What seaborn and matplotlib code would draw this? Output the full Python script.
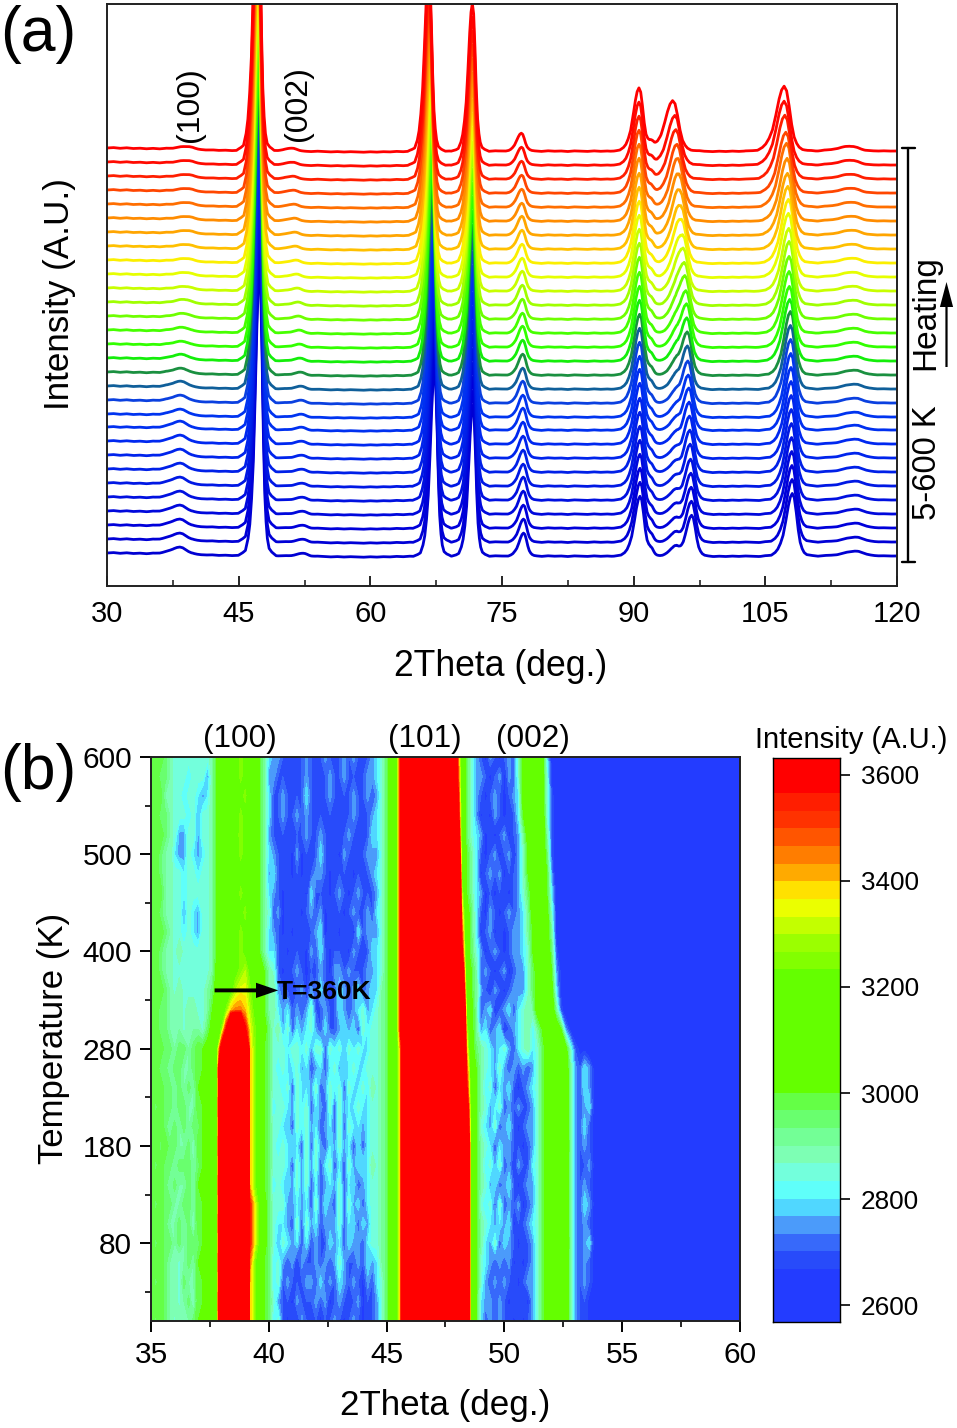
import numpy as np
import pandas as pd
import matplotlib
matplotlib.use('Agg')
import matplotlib.pyplot as plt
from matplotlib.colors import ListedColormap
from matplotlib.lines import Line2D
from matplotlib.ticker import AutoMinorLocator, FixedLocator, MultipleLocator
import seaborn as sns

W, H = 957, 1428

sns.set_theme(style='ticks')
plt.rcParams['font.family'] = ['Liberation Sans', 'DejaVu Sans']
plt.rcParams['axes.edgecolor'] = 'black'
plt.rcParams['text.color'] = 'black'

# ── panel (a) data ───────────────────────────────────────────────────────────
temps = [5, 20, 40, 60, 80, 100, 120, 140, 160, 180, 200, 220, 240, 260, 280,
         300, 320, 360, 380, 400, 420, 440, 460, 480, 500, 520, 540, 560, 580, 600]

curve_offset = [33, 47, 61, 75, 89, 103, 117, 131, 145, 159, 172, 186, 200, 214, 228,
                242, 256, 270, 284, 298, 312, 326, 340, 354, 368, 382, 396, 410, 424, 438]

curve_colors = ['#0000d2', '#0000d6', '#0000da', '#0008dc', '#0010e0', '#0018e4', '#0020e8',
                '#0024ec', '#0028f0', '#0030f0', '#0034f0', '#0a40e0', '#0f5f9a', '#1a9040',
                '#14ee0a', '#32ff00', '#46ff00', '#6eff00', '#a0ff00', '#c8ff00', '#e6ff00',
                '#fbef00', '#ffc000', '#ffa500', '#ff8c00', '#ff6e00', '#ff4600', '#ff1e00',
                '#ff0a00', '#ff0000']

# background level of a curve across 30-120 deg
background = [0.0, 0.4, -0.3, 0.2, -0.5, -0.2, -0.8, -0.4, -1.0, -0.6, -1.2, -1.0, -1.6, -1.3, -1.8,
              -2.1, -1.9, -2.4, -2.2, -2.6, -2.3, -2.5, -2.4,
              -2.2, -2.6, -2.4, -2.9, -2.7, -3.2, -3.0, -3.3, -3.6, -3.2, -3.5, -3.9, -3.6, -4.0, -3.7, -3.9, -4.2,
              -3.8, -4.1, -3.7, -3.9, -3.4, -3.7, -3.2, -3.4,
              -3.1, -3.5, -2.9, -3.3, -3.0, -3.4, -2.8, -3.2, -3.5, -3.0, -3.3, -2.8, -3.1, -3.5, -2.9, -3.2,
              -2.7, -3.1, -3.4, -2.8, -3.2, -3.0, -3.5, -2.9, -3.2, -3.4, -2.9, -3.3, -3.0, -3.4, -3.1, -3.3,
              -3.0, -3.4, -2.9, -3.2, -3.5, -3.0, -3.3, -3.6, -3.1, -3.4, -3.0, -3.3, -3.6, -3.2, -3.5, -3.1,
              -3.4, -3.0, -3.3, -3.5, -3.1, -3.4, -3.0, -3.2, -3.5, -3.0, -3.3, -3.1, -3.4, -2.9, -3.2, -3.5,
              -3.1, -3.3, -3.0, -3.4, -3.1, -3.2, -2.9, -3.1, -3.0]

# one reflection: offset from its centre (deg) and height relative to its top
shape_dx = [-2.4, -1.9, -1.6, -1.3, -1.1, -0.9, -0.7, -0.5, -0.3, -0.15, 0.0,
            0.15, 0.3, 0.45, 0.6, 0.75, 0.9, 1.1, 1.4, 1.9]
shape_rel = [0.0, 0.01, 0.018, 0.06, 0.11, 0.20, 0.33, 0.55, 0.80, 0.94, 1.0,
             0.93, 0.70, 0.42, 0.22, 0.12, 0.06, 0.025, 0.012, 0.0]

# per-curve centre and height of every reflection, bottom curve first
pos_100 = [38.30, 38.30, 38.30, 38.30, 38.32, 38.32, 38.34, 38.34, 38.36, 38.36, 38.38, 38.40, 38.42, 38.46, 38.50,
           38.55, 38.60, 38.70, 38.80, 38.90, 38.95, 39.00, 39.00, 39.05, 39.05, 39.05, 39.05, 39.05, 39.05, 39.05]
h_100 = [7, 7, 7, 7, 7, 7, 7, 7, 7, 7, 6, 6, 6, 5, 5, 4, 4, 4, 4, 3, 3, 3, 3, 3, 3, 3, 3, 3, 3, 3]
pos_002 = [52.35, 52.32, 52.30, 52.28, 52.26, 52.24, 52.22, 52.20, 52.18, 52.16, 52.14, 52.12, 52.10, 52.05, 52.00,
           51.95, 51.90, 51.80, 51.75, 51.65, 51.55, 51.50, 51.40, 51.35, 51.30, 51.25, 51.20, 51.15, 51.10, 51.05]
h_002 = [3, 3, 3, 3, 3, 3, 3, 3, 3, 3, 3, 3, 3, 3, 3, 3, 3, 3, 3, 3, 3, 3, 3, 3, 3, 3, 3, 3, 3, 3]
pos_47 = [47.37, 47.37, 47.36, 47.36, 47.35, 47.35, 47.34, 47.34, 47.33, 47.33, 47.32, 47.31, 47.30, 47.29, 47.29,
          47.28, 47.27, 47.26, 47.25, 47.24, 47.23, 47.22, 47.21, 47.20, 47.19, 47.18, 47.17, 47.16, 47.15, 47.15]
h_47 = [283, 283, 283, 284, 284, 284, 284, 284, 284, 284, 284, 284, 284, 284, 284,
        284, 284, 284, 284, 284, 284, 284, 284, 284, 284, 284, 284, 284, 284, 284]
pos_67 = [67.30, 67.28, 67.26, 67.24, 67.22, 67.20, 67.18, 67.16, 67.14, 67.12, 67.10, 67.08, 67.06, 67.04, 67.02,
          67.00, 66.98, 66.95, 66.92, 66.90, 66.87, 66.84, 66.81, 66.78, 66.75, 66.72, 66.70, 66.68, 66.66, 66.65]
h_67 = [185, 185, 185, 185, 185, 185, 185, 185, 185, 185, 185, 185, 185, 185, 185,
        185, 185, 185, 185, 185, 185, 185, 185, 185, 185, 185, 185, 185, 185, 185]
pos_71 = [71.67, 71.67, 71.67, 71.67, 71.67, 71.67, 71.66, 71.66, 71.66, 71.66, 71.65, 71.65, 71.65, 71.65, 71.65,
          71.65, 71.64, 71.64, 71.63, 71.63, 71.63, 71.63, 71.63, 71.63, 71.63, 71.63, 71.62, 71.62, 71.62, 71.62]
h_71 = [151, 151, 151, 151, 151, 151, 151, 151, 151, 151, 151, 151, 151, 150, 150,
        150, 150, 150, 150, 149, 149, 149, 149, 149, 148, 148, 148, 148, 148, 148]
pos_77 = [77.45, 77.44, 77.43, 77.42, 77.42, 77.41, 77.40, 77.40, 77.39, 77.38, 77.38, 77.37, 77.36, 77.36, 77.35,
          77.34, 77.33, 77.32, 77.32, 77.31, 77.30, 77.29, 77.28, 77.27, 77.26, 77.25, 77.24, 77.23, 77.22, 77.20]
h_77 = [23, 23, 23, 23, 23, 22, 22, 22, 22, 22, 22, 22, 21, 21, 21, 21, 20, 20, 20, 20, 19, 19, 19, 19, 18, 18, 18, 18, 18, 18]
pos_90 = [90.72, 90.72, 90.72, 90.71, 90.71, 90.71, 90.70, 90.70, 90.70, 90.69, 90.69, 90.68, 90.68, 90.68, 90.67,
          90.67, 90.66, 90.66, 90.65, 90.65, 90.64, 90.64, 90.63, 90.63, 90.62, 90.62, 90.61, 90.61, 90.60, 90.60]
h_90 = [60, 60, 60, 60, 60, 60, 60, 60, 61, 61, 61, 61, 61, 61, 61, 61, 61, 62, 62, 62, 62, 62, 62, 62, 63, 63, 63, 63, 63, 63]
pos_96 = [96.60, 96.58, 96.55, 96.52, 96.48, 96.44, 96.40, 96.36, 96.32, 96.28, 96.22, 96.17, 96.12, 96.10, 96.05,
          96.02, 95.94, 95.83, 95.76, 95.64, 95.57, 95.45, 95.38, 95.26, 95.18, 95.07, 94.96, 94.81, 94.69, 94.43]
h_96 = [41, 41, 41, 41, 41, 42, 42, 42, 42, 42, 42, 42, 43, 43, 43, 43, 42, 43, 42, 42, 41, 42, 41, 42, 43, 44, 44, 45, 46, 48]
w_96 = [1.35, 1.35, 1.35, 1.35, 1.35, 1.35, 1.35, 1.35, 1.4, 1.4, 1.4, 1.4, 1.4, 1.45, 1.45,
        1.5, 1.5, 1.5, 1.55, 1.55, 1.6, 1.6, 1.65, 1.65, 1.7, 1.7, 1.75, 1.8, 1.85, 1.9]
pos_108 = [108.07, 108.05, 108.03, 108.01, 107.99, 107.98, 107.96, 107.95, 107.93, 107.92, 107.90, 107.88, 107.86, 107.86, 107.78,
           107.74, 107.71, 107.71, 107.71, 107.67, 107.63, 107.63, 107.56, 107.52, 107.48, 107.41, 107.33, 107.22, 107.14, 107.14]
h_108 = [63, 63, 63, 63, 63, 63, 63, 63, 63, 63, 64, 64, 64, 64, 62, 61, 62, 63, 64, 63, 64, 64, 63, 62, 63, 64, 61, 64, 64, 65]
w_108 = [1.5, 1.5, 1.5, 1.5, 1.5, 1.5, 1.5, 1.5, 1.5, 1.5, 1.5, 1.55, 1.55, 1.55, 1.6,
         1.6, 1.6, 1.65, 1.65, 1.65, 1.7, 1.7, 1.7, 1.75, 1.75, 1.8, 1.8, 1.85, 1.9, 1.9]
pos_115 = [115.20, 115.20, 115.20, 115.20, 115.18, 115.18, 115.16, 115.16, 115.14, 115.14, 115.12, 115.10, 115.08, 115.06, 115.04,
           115.02, 115.00, 114.98, 114.95, 114.92, 114.90, 114.87, 114.84, 114.81, 114.78, 114.75, 114.72, 114.68, 114.64, 114.60]
h_115 = [5, 5, 5, 5, 5, 5, 5, 5, 5, 5, 5, 5, 5, 5, 5, 5, 5, 5, 5, 5, 5, 5, 5, 5, 5, 5, 5, 5, 5, 5]
# shoulder and small bump of the split group next to the 90 deg reflection
h_shoulder = [6, 6, 6, 6, 6, 6, 6, 6, 6, 6, 6, 6, 6, 6, 6, 6, 6, 6, 6, 6, 6, 6, 6, 6, 6, 6, 6, 6, 6, 6]
h_bump = [9, 9, 9, 9, 9, 9, 9, 9, 9, 9, 9, 9, 10, 10, 10, 10, 10, 10, 10, 10, 10, 9, 9, 8, 8, 7, 6, 5, 4, 3]

peak_table = [(pos_100, h_100, [2.2] * 30), (pos_002, h_002, [1.5] * 30),
              (pos_47, h_47, [1.0] * 30), (pos_67, h_67, [1.0] * 30),
              (pos_71, h_71, [1.0] * 30), (pos_77, h_77, [1.1] * 30),
              (pos_90, h_90, [1.35] * 30), (pos_96, h_96, w_96),
              (pos_108, h_108, w_108), (pos_115, h_115, [3.0] * 30),
              ([92.0] * 30, h_shoulder, [0.8] * 30), ([94.7] * 30, h_bump, [1.3] * 30)]

# ── panel (b) data ───────────────────────────────────────────────────────────
# one digit per 0.2 deg from 35 to 55 deg, 2600 + 50 * digit (base 36), top row = 600 K
# the gaps only split the rows up into 35-37.8 / 38-40 / 40.2-45 / 45.2-48.8 / 49-51 / 51.2-53 / 53.2-55
map_rows = [
    '888765555555568 9aabdcba864 33222 22322 23222 32322 23457 9akzzzzzzzzzzzja753 21321232 59a ba94100000 0000000000',
    '887765554555368 9aabdcba863 32222 22322 22322 32222 33457 9akzzzzzzzzzzzka753 32123132 59a ba95100000 0000000000',
    '888665545543468 9aabcdba864 22322 22422 22322 22322 32357 9akzzzzzzzzzzzma753 21232123 49a ba95200000 0000000000',
    '887765554535568 9aabdcba864 22322 32322 22222 22322 23457 9akzzzzzzzzzzzoa753 12132122 48a baa5200000 0000000000',
    '888765335535568 9aacdcba863 22222 22322 32222 23222 24457 9akzzzzzzzzzzzra754 31212312 369 aba6200000 0000000000',
    '887664335434568 9aabdcba864 32221 31222 42221 32222 33357 9akzzzzzzzzzzzvb864 21231231 358 aba7200000 0000000000',
    '887665545545568 9aabccba863 42221 21223 32122 22122 23457 9akzzzzzzzzzzzzc864 12323122 358 aba8300000 0000000000',
    '888665545555568 9aabdcba864 32122 22142 22123 21232 22357 9akzzzzzzzzzzzze864 31212212 357 9ba8410000 0000000000',
    '887665535435568 9aabcdba865 23122 21232 31222 12322 32457 9akzzzzzzzzzzzzg974 21321232 346 9ab9510000 0000000000',
    '888765545435568 9abbdcba864 32121 22223 41221 22142 33357 9akzzzzzzzzzzzzi974 12312123 346 8ab9610000 0000000000',
    '887665655555568 9aabdcba864 42212 22132 42122 21322 24457 9akzzzzzzzzzzzzk975 31232123 345 8aba720000 0000000000',
    '887665555555569 9abcdecba86 52122 32122 32133 23222 33457 9akzzzzzzzzzzzzoa86 23212312 335 79ba831000 0000000000',
    '888765655555679 abceffdba86 63222 23132 42224 32342 34467 9akzzzzzzzzzzzzrb86 32132123 335 79ab941000 0000000000',
    '887766656655689 bdghhgeca86 64342 32352 23224 32345 34567 9akzzzzzzzzzzzzzc96 23412342 456 69aba62000 0000000000',
    '88776665666579b dkzzzkfdb97 56352 43453 24223 43425 45567 9akzzzzzzzzzzzzze96 34234123 456 468aba8310 1000000000',
    '8887767767889ac mzzzzzgdb87 55545 54535 52545 35454 45567 9ahzzzzzzzzzzzzzg97 65434532 456 4579aba952 1100000000',
    '8877677667889ac zzzzzzgdb87 54544 53423 42453 44544 55567 9ahzzzzzzzzzzzzzia8 65435323 232 3579abba63 2431100000',
    '8887767676899ab zzzzzzgdb87 55452 54435 23545 25445 46567 9ahzzzzzzzzzzzzzka8 64524342 123 4579abba63 2431100000',
    '8787767766889ac zzzzzzgdb87 45543 54524 32525 34454 45567 9ahzzzzzzzzzzzzzoa8 65345232 322 3579abba63 2341100000',
    '8887676767789ab zzzzzzgdb87 55442 54534 23425 25443 45567 9ahzzzzzzzzzzzzzra8 54352342 123 3579abba63 2421100000',
    '8878776675889ac zzzzzzgdb87 54544 42525 32435 34242 45567 9ahzzzzzzzzzzzzzva8 65424332 212 3579abbb63 2321100000',
    '8787767776789ab zzzzzzgdb87 55542 53535 24524 25344 46567 9ahzzzzzzzzzzzzzva8 64535231 322 4579abba63 2231100000',
    '8887676676899ac zzzzzzgdb87 45443 53524 23435 24423 45567 9ahzzzzzzzzzzzzzva8 65342342 123 3579abba63 2321100000',
    '8787766776889ab zzzzzzjfc97 55533 43425 24325 25342 45567 9ahzzzzzzzzzzzzzva8 54525232 312 3579abba63 2431100000',
    '8887667675889ac zzzzzzjfc97 54432 52534 23335 24424 35567 9ahzzzzzzzzzzzzzva8 65434341 223 4579abba63 2321100000',
    '8787767677789ab zzzzzzjfc97 53543 42423 22434 24332 45567 9ahzzzzzzzzzzzzzva8 64352432 122 3579abbb63 2341100000',
    '8887665676899ac zzzzzzhdb87 45323 13223 23235 32232 43467 9ahzzzzzzzzzzzzzva8 54323231 212 3579abba63 2321100000',
    '8787665766889ab zzzzzzgdb87 45232 22332 42324 32321 32457 9ahzzzzzzzzzzzzzva8 53232322 123 3579abba63 2321100000',
    '8887665675889ac zzzzzzgdb87 53221 32223 23123 22231 22357 9ahzzzzzzzzzzzzzva8 43323212 221 3579abba63 2211100000',
    '8787656667899ab zzzzzzgdb87 45212 13222 12232 12321 22357 9ahzzzzzzzzzzzzzva8 42323221 212 3579abba63 2211100000',
]

# band colours of the scale bar, bottom band first, 33.25 wide from 2568
band_colors = ['#233cff', '#233cff', '#233cff', '#284bfa', '#3769fa', '#4b9bfa', '#50d7ff', '#5ffffa',
               '#73ffdc', '#7dffb4', '#73ff96', '#69ff6e', '#64ff46', '#64ff00', '#64ff00', '#64ff00',
               '#64ff00', '#64ff00', '#64ff00', '#64ff00', '#82ff00', '#9bff00', '#c3ff00', '#ebff00',
               '#ffe100', '#ffaa00', '#ff7d00', '#ff5500', '#ff3200', '#ff1e00', '#ff0000', '#ff0000']
band_start = 2568
band_step = 33.25
cbar_ticks = [2600, 2800, 3000, 3200, 3400, 3600]
temp_ticks = [80, 180, 280, 400, 500, 600]


def rect(left, top, right, bottom):
    return [left / W, 1 - bottom / H, (right - left) / W, (bottom - top) / H]


fig = plt.figure(figsize=(W / 100, H / 100), dpi=100)


def label(x, y, s, size, **kw):
    kw.setdefault('ha', 'center')
    fig.text(x / W, 1 - y / H, s, fontsize=size, va='center', **kw)


# ── (a) stacked patterns ─────────────────────────────────────────────────────
ax_a = fig.add_axes(rect(107, 4, 897, 586))

bg_x = 30 + 90 * np.arange(len(background)) / (len(background) - 1)
frames = []
for i in range(len(temps)):
    knots = [bg_x]
    for pos, hgt, wid in peak_table:
        knots.append(pos[i] + np.array(shape_dx) * wid[i])
    x = np.unique(np.concatenate(knots))
    x = x[(x >= 30) & (x <= 120)]
    y = curve_offset[i] + np.interp(x, bg_x, background)
    for pos, hgt, wid in peak_table:
        y = y + hgt[i] * np.interp(x, pos[i] + np.array(shape_dx) * wid[i], shape_rel, left=0, right=0)
    frames.append(pd.DataFrame({'two_theta': x, 'intensity': y, 'curve': i}))
patterns = pd.concat(frames, ignore_index=True)

sns.lineplot(data=patterns, x='two_theta', y='intensity', hue='curve',
             palette=dict(enumerate(curve_colors)), estimator=None, errorbar=None,
             legend=False, linewidth=2.0, ax=ax_a)
ax_a.set_xlim(30, 120)
ax_a.set_ylim(0, 582)
ax_a.set_xlabel('')
ax_a.set_ylabel('')
ax_a.set_yticks([])
ax_a.xaxis.set_major_locator(MultipleLocator(15))
ax_a.xaxis.set_minor_locator(AutoMinorLocator(2))
ax_a.tick_params(axis='x', which='major', direction='in', length=7.5, width=1.2, labelsize=21, pad=10, colors='black')
ax_a.tick_params(axis='x', which='minor', direction='in', length=4.5, width=1.2)
for s in ax_a.spines.values():
    s.set_linewidth(1.4)
    s.set_color('#202020')

label(38, 35, '(a)', 45)
label(60, 294, 'Intensity (A.U.)', 25.2, rotation=90)
label(501, 667, '2Theta (deg.)', 25.6)
label(190, 105, '(100)', 23, rotation=90)
label(298, 104, '(002)', 23, rotation=90)
label(926, 313, 'Heating', 24, rotation=90)
label(927, 463, '5-600 K', 23.6, rotation=90)

# bracket for the temperature range and the heating arrow
for xs, ys in [([908, 908], [148, 562]), ([902, 915], [148, 148]), ([902, 915], [562, 562])]:
    fig.add_artist(Line2D(np.array(xs) / W, 1 - np.array(ys) / H, color='black', lw=1.7,
                          transform=fig.transFigure))
ax_a.annotate('', xy=(946.5, H - 282), xytext=(946.5, H - 367),
              xycoords='figure pixels', textcoords='figure pixels',
              arrowprops=dict(facecolor='black', edgecolor='black', width=1.6, headwidth=9.5,
                              headlength=18, shrink=0, lw=0))

# ── (b) map ──────────────────────────────────────────────────────────────────
ax_b = fig.add_axes(rect(151, 757, 740, 1321))

rows = [r.replace(' ', '') + '0' for r in map_rows[::-1]]
intensity = np.array([[2600 + 50 * int(c, 36) for c in r] for r in rows], dtype=float)
map_x = np.append(35 + 0.2 * np.arange(intensity.shape[1] - 1), 60.0)
map_y = np.arange(len(temps))

edges = band_start + band_step * np.arange(len(band_colors) + 1)
cmap = ListedColormap(band_colors)
levels = edges.copy()
levels[0] = 2000
levels[-1] = 5000
ax_b.contourf(map_x, map_y, intensity, levels=levels, colors=band_colors)
ax_b.set_xlim(35, 60)
ax_b.set_ylim(0, len(temps) - 1)
ax_b.xaxis.set_major_locator(MultipleLocator(5))
ax_b.xaxis.set_minor_locator(AutoMinorLocator(2))
tick_rows = [temps.index(t) for t in temp_ticks]
ax_b.yaxis.set_major_locator(FixedLocator(tick_rows))
ax_b.yaxis.set_minor_locator(FixedLocator([t - 2.5 for t in tick_rows]))
ax_b.set_yticklabels([str(t) for t in temp_ticks])
ax_b.tick_params(axis='x', which='major', direction='out', length=8, width=1.4, labelsize=21.5, pad=6.5, colors='black')
ax_b.tick_params(axis='y', which='major', direction='out', length=8, width=1.4, labelsize=21.5, pad=5.5, colors='black')
ax_b.tick_params(axis='both', which='minor', direction='out', length=4.5, width=1.4)
for s in ax_b.spines.values():
    s.set_linewidth(1.4)
    s.set_color('#202020')

ax_b.annotate('', xy=(40.4, 17), xytext=(37.7, 17),
              arrowprops=dict(facecolor='black', edgecolor='black', width=2.8, headwidth=11,
                              headlength=16, shrink=0, lw=0))
ax_b.text(40.35, 16.9, 'T=360K', fontsize=19, fontweight='bold', va='center', ha='left')

label(38, 772, '(b)', 45)
label(54, 1038, 'Temperature (K)', 25, rotation=90)
label(445, 1406, '2Theta (deg.)', 25.2)
label(240, 739, '(100)', 22.7)
label(425, 739, '(101)', 22.7)
label(533, 739, '(002)', 22.7)
label(851, 740, 'Intensity (A.U.)', 21)

# ── scale bar ────────────────────────────────────────────────────────────────
cax = fig.add_axes(rect(773, 758, 840, 1322))
cax.pcolormesh([0, 1], edges, np.arange(len(band_colors)).reshape(-1, 1), cmap=cmap,
               vmin=0, vmax=len(band_colors) - 1)
cax.set_xticks([])
cax.yaxis.tick_right()
cax.set_yticks(cbar_ticks)
cax.set_ylim(edges[0], edges[-1])
cax.tick_params(axis='y', direction='out', length=7.5, width=1.2, labelsize=18.8, pad=7.5, colors='black')
for s in cax.spines.values():
    s.set_linewidth(1.0)
    s.set_color('black')

fig.savefig('out.png', dpi=100)
